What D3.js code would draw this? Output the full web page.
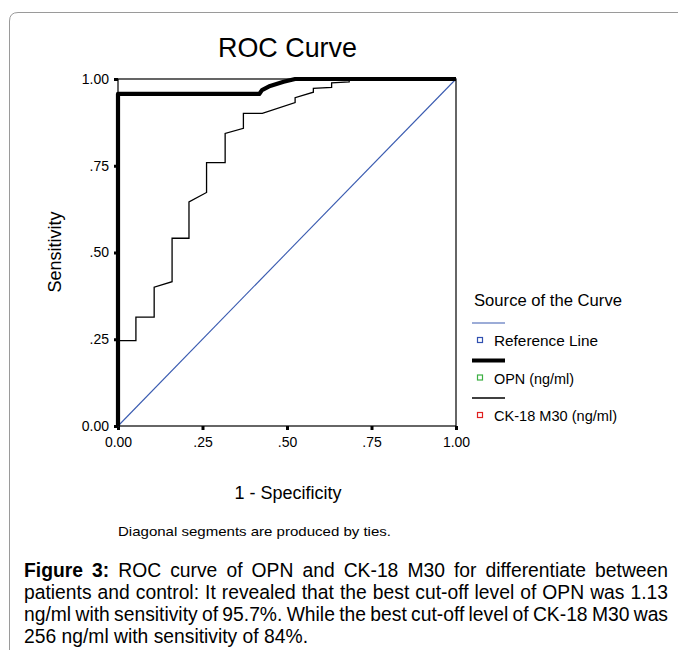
<!DOCTYPE html>
<html>
<head>
<meta charset="utf-8">
<script src="https://cdn.jsdelivr.net/npm/d3@7"></script>
<style>
  html, body { margin: 0; padding: 0; background: #fff; }
  svg text { font-family: "Liberation Sans", Arial, sans-serif; fill: #000; }
</style>
</head>
<body>
<svg id="chart" width="678" height="650"></svg>
<script>
// ---- data ----
const tickValues = [0, 0.25, 0.5, 0.75, 1];
const tickLabels = ["0.00", ".25", ".50", ".75", "1.00"];

const refFpr = [0, 1];
const refSens = [0, 1];

const opnFpr  = [0, 0, 0.418, 0.426, 0.45, 0.49, 0.524, 1];
const opnSens = [0, 0.957, 0.957, 0.968, 0.98, 0.992, 1, 1];

const ckFpr  = [0, 0, 0.053, 0.053, 0.107, 0.107, 0.160, 0.160, 0.210, 0.210, 0.262, 0.262, 0.317, 0.317, 0.371, 0.371, 0.427, 0.524, 0.524, 0.578, 0.578, 0.632, 0.632, 0.684, 0.684, 1];
const ckSens = [0, 0.246, 0.246, 0.314, 0.314, 0.400, 0.416, 0.541, 0.541, 0.646, 0.673, 0.759, 0.759, 0.843, 0.858, 0.901, 0.901, 0.932, 0.946, 0.962, 0.973, 0.976, 0.989, 0.992, 1, 1];

const legendLabels = ["Reference Line", "OPN (ng/ml)", "CK-18 M30 (ng/ml)"];
const captionLead = "Figure 3:";
const captionLines = [
  "ROC curve of OPN and CK-18 M30 for differentiate between",
  "patients and control: It revealed that the best cut-off level of OPN was 1.13",
  "ng/ml with sensitivity of 95.7%. While the best cut-off level of CK-18 M30 was",
  "256 ng/ml with sensitivity of 84%."
];

// ---- layout ----
const svg = d3.select("#chart");
const X0 = 118, X1 = 456, Y0 = 426, Y1 = 79;
const x = d3.scaleLinear().domain([0, 1]).range([X0, X1]);
const y = d3.scaleLinear().domain([0, 1]).range([Y0, Y1]);

// page frame (rounded corner)
svg.append("path")
  .attr("d", "M9.5,650 L9.5,21 Q9.5,12.5 18,12.5 L678,12.5")
  .attr("fill", "none").attr("stroke", "#9a9a9a").attr("stroke-width", 1);

// title
svg.append("text").attr("x", 218).attr("y", 57)
  .attr("font-size", 28).attr("textLength", 139).attr("lengthAdjust", "spacingAndGlyphs")
  .text("ROC Curve");

// axes
const xAxis = d3.axisBottom(x).tickValues(tickValues).tickFormat((d, i) => tickLabels[i]).tickSize(4).tickPadding(4);
const yAxis = d3.axisLeft(y).tickValues(tickValues).tickFormat((d, i) => tickLabels[i]).tickSize(4).tickPadding(5);

const gx = svg.append("g").attr("transform", `translate(0,${Y0})`).call(xAxis);
const gy = svg.append("g").attr("transform", `translate(${X0},0)`).call(yAxis);
[gx, gy].forEach(g => {
  g.select(".domain").remove();
  g.selectAll(".tick line").attr("stroke", "#000").attr("stroke-width", 3);
  g.selectAll(".tick text").attr("font-size", 14).attr("font-family", "Liberation Sans, Arial, sans-serif").attr("fill", "#000");
});
gx.selectAll(".tick text").attr("dy", "0.9em");

// plot frame
svg.append("rect").attr("x", X0).attr("y", Y1).attr("width", X1 - X0).attr("height", Y0 - Y1)
  .attr("fill", "none").attr("stroke", "#000").attr("stroke-width", 1.2);

const line = d3.line().x(d => x(d[0])).y(d => y(d[1]));

// reference line
svg.append("path").datum(refFpr.map((v, i) => [v, refSens[i]]))
  .attr("d", line).attr("fill", "none").attr("stroke", "#3a5bb0").attr("stroke-width", 1.1);

// CK-18
svg.append("path").datum(ckFpr.map((v, i) => [v, ckSens[i]]))
  .attr("d", line).attr("fill", "none").attr("stroke", "#000").attr("stroke-width", 1.3);

// OPN
svg.append("path").datum(opnFpr.map((v, i) => [v, opnSens[i]]))
  .attr("d", line).attr("fill", "none").attr("stroke", "#000").attr("stroke-width", 4.2)
  .attr("stroke-linejoin", "round");

// axis titles
svg.append("text").attr("transform", "translate(61,252) rotate(-90)")
  .attr("text-anchor", "middle").attr("font-size", 18).text("Sensitivity");
svg.append("text").attr("x", 288).attr("y", 499)
  .attr("text-anchor", "middle").attr("font-size", 18).text("1 - Specificity");

// legend
const lg = svg.append("g");
lg.append("text").attr("x", 474).attr("y", 306).attr("font-size", 17)
  .attr("textLength", 148).attr("lengthAdjust", "spacingAndGlyphs").text("Source of the Curve");
const legendStroke = ["#3a5bb0", "#000", "#000"];
const legendWidth = [1.2, 4.2, 1.3];
const legendMark = ["#3050b0", "#3cb043", "#e02020"];
const legendLen = [104, 80, 123];
legendLabels.forEach((lab, i) => {
  const top = 323 + i * 37.5;
  lg.append("line").attr("x1", 472).attr("x2", 505).attr("y1", top).attr("y2", top)
    .attr("stroke", legendStroke[i]).attr("stroke-width", legendWidth[i]);
  lg.append("rect").attr("x", 477.5).attr("y", top + 14.5).attr("width", 5).attr("height", 5)
    .attr("fill", "none").attr("stroke", legendMark[i]).attr("stroke-width", 1.2);
  lg.append("text").attr("x", 494).attr("y", top + 23).attr("font-size", 14)
    .attr("textLength", legendLen[i]).attr("lengthAdjust", "spacingAndGlyphs").text(lab);
});

// note
svg.append("text").attr("x", 118).attr("y", 536).attr("font-size", 13)
  .attr("textLength", 273).attr("lengthAdjust", "spacingAndGlyphs")
  .text("Diagonal segments are produced by ties.");

// caption (justified by word spacing)
const CAP_X = 24, CAP_W = 644;
const cap = svg.append("g").attr("font-size", 19.3);
const capY = [577, 599, 621, 643];
captionLines.forEach((txt, i) => {
  const t = cap.append("text").attr("x", CAP_X).attr("y", capY[i]);
  let full = txt;
  if (i === 0) {
    t.append("tspan").attr("font-weight", "bold").text(captionLead);
    t.append("tspan").text(" " + txt);
    full = captionLead + " " + txt;
  } else {
    t.text(txt);
  }
  if (i < 3) {
    const w = t.node().getComputedTextLength();
    const spaces = (full.match(/ /g) || []).length;
    t.attr("word-spacing", (CAP_W - w) / spaces);
  }
});
</script>
</body>
</html>
